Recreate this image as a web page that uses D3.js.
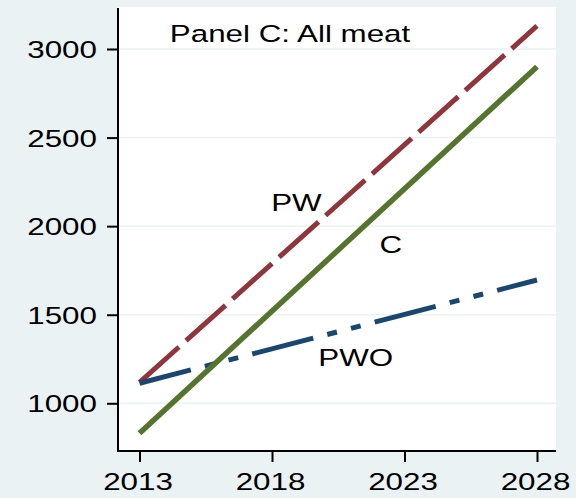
<!DOCTYPE html>
<html>
<head>
<meta charset="utf-8">
<script src="https://cdn.jsdelivr.net/npm/d3@7"></script>
<style>
  html, body { margin: 0; padding: 0; background: #eaf2f3; }
  svg { display: block; }
  text { font-family: "Liberation Sans", Arial, sans-serif; fill: #000; }
</style>
</head>
<body>
<div id="chart"></div>
<script>
const years = [2013, 2028];
const pwValues = [1118, 3130];
const pwoValues = [1113, 1696];
const cValues = [831, 2900];
const yTicks = [1000, 1500, 2000, 2500, 3000];
const xTicks = [2013, 2018, 2023, 2028];
const panelTitle = 'Panel C: All meat';
const labels = [
    { text: 'PW', year: 2018.92, value: 2136 },
    { text: 'C', year: 2022.48, value: 1895 },
    { text: 'PWO', year: 2021.16, value: 1259 }
];

const width = 576;
const height = 498;
const plot = { left: 118, right: 556, top: 7, bottom: 451 };
const stretch = 1.28;
const fontSize = 24.5;

const x = d3.scaleLinear().domain([2013, 2028]).range([139.5, 537]);
const y = d3.scaleLinear().domain([1000, 3000]).range([403.3, 49]);

const svg = d3.select('#chart')
    .append('svg')
    .attr('width', width)
    .attr('height', height);

svg.append('rect')
    .attr('width', width)
    .attr('height', height)
    .attr('fill', '#eaf2f3');

svg.append('rect')
    .attr('x', plot.left)
    .attr('y', plot.top)
    .attr('width', plot.right - plot.left)
    .attr('height', plot.bottom - plot.top)
    .attr('fill', '#ffffff');

// gridlines
svg.selectAll('.grid')
    .data(yTicks)
    .enter().append('line')
    .attr('x1', plot.left)
    .attr('x2', plot.right)
    .attr('y1', d => y(d))
    .attr('y2', d => y(d))
    .attr('stroke', '#eaf2f3')
    .attr('stroke-width', 1.5);

// stretched text helper
function stretchedText(px, py, str, anchor) {
    svg.append('g')
        .attr('transform', `translate(${px},${py}) scale(${stretch},1)`)
        .append('text')
        .attr('text-anchor', anchor)
        .style('font-size', fontSize + 'px')
        .text(str);
}

// axes
const yAxis = d3.axisLeft(y).tickValues(yTicks).tickSize(11).tickFormat('');
svg.append('g')
    .attr('transform', `translate(${plot.left},0)`)
    .call(yAxis)
    .call(g => g.select('.domain').remove())
    .call(g => g.selectAll('line').attr('stroke', '#000').attr('stroke-width', 2));

const xAxis = d3.axisBottom(x).tickValues(xTicks).tickSize(11).tickFormat('');
svg.append('g')
    .attr('transform', `translate(0,${plot.bottom})`)
    .call(xAxis)
    .call(g => g.select('.domain').remove())
    .call(g => g.selectAll('line').attr('stroke', '#000').attr('stroke-width', 2));

svg.append('line')
    .attr('x1', plot.left).attr('x2', plot.left)
    .attr('y1', plot.top + 1).attr('y2', plot.bottom + 1)
    .attr('stroke', '#000').attr('stroke-width', 2);
svg.append('line')
    .attr('x1', plot.left).attr('x2', plot.right)
    .attr('y1', plot.bottom).attr('y2', plot.bottom)
    .attr('stroke', '#000').attr('stroke-width', 2);

yTicks.forEach(t => stretchedText(97 / stretch * stretch, y(t) + 9, t, 'end'));
xTicks.forEach(t => stretchedText(x(t) - 1.5, 490, t, 'middle'));

// series
const line = d3.line()
    .x((d, i) => x(years[i]))
    .y(d => y(d));

svg.append('path')
    .datum(pwValues)
    .attr('d', line)
    .attr('fill', 'none')
    .attr('stroke', '#90353b')
    .attr('stroke-width', 5)
    .attr('stroke-dasharray', '53,9.5');

svg.append('path')
    .datum(pwoValues)
    .attr('d', line)
    .attr('fill', 'none')
    .attr('stroke', '#1a476f')
    .attr('stroke-width', 5)
    .attr('stroke-dasharray', '63,14.5,10,14.5,10,14.5')
    .attr('stroke-dashoffset', 10);

svg.append('path')
    .datum(cValues)
    .attr('d', line)
    .attr('fill', 'none')
    .attr('stroke', '#55752f')
    .attr('stroke-width', 5.5);

// annotations
stretchedText(x(2018.68), y(3086) + 8.6, panelTitle, 'middle');
labels.forEach(l => stretchedText(x(l.year), y(l.value) + 8.6, l.text, 'middle'));
</script>
</body>
</html>
